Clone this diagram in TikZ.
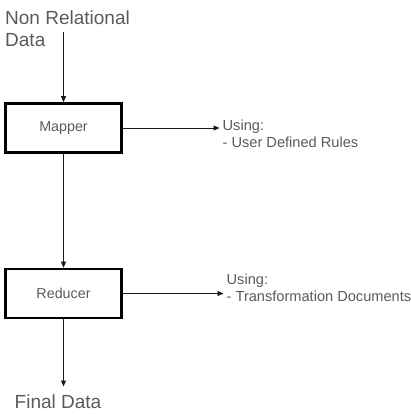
\documentclass[tikz,border=0pt]{standalone}
\usepackage{fontspec}
\setmainfont{Liberation Sans}
\usepackage{xcolor}
\usetikzlibrary{arrows.meta}
\definecolor{vdarkgray}{HTML}{1a1a1a}
\definecolor{vtextgray}{HTML}{5a5a5a}

\begin{document}
\begin{tikzpicture}[x=1pt, y=-1pt,
		stagebox/.style={draw=black, line width=2.6pt, minimum width=116pt, minimum height=49pt, inner sep=0pt, text=vtextgray, font=\fontsize{14.3}{16}\selectfont},
		bigtext/.style={inner sep=0pt, align=left, text=vtextgray, font=\fontsize{19}{22}\selectfont},
		notetext/.style={inner xsep=3pt, inner ysep=0pt, align=left, text=vtextgray, font=\fontsize{14.6}{16.5}\selectfont},
		flow/.style={color=vdarkgray, line width=0.9pt, -{Triangle[length=6pt, width=5pt]}}]
		\useasboundingbox (0,0) rectangle (411,414);
		\node[stagebox] (mapper) at (63.5,128) {Mapper};
		\node[stagebox] (reducer) at (63.5,293.5) {Reducer};
		\node[bigtext, anchor=north west] (source) at (5,10.5) {Non Relational\\Data};
		\node[bigtext, anchor=north west, inner ysep=8pt] (final) at (14.5,386.5) {Final Data};
		\node[notetext, anchor=north west] (mapnote) at (219.5,120) {Using:\\- User Defined Rules};
		\node[notetext, anchor=north west] (rednote) at (223.5,274) {Using:\\- Transformation Documents};
		\coordinate (sourceout) at (63.5,32);
		\draw[flow] (sourceout) -- (mapper.north);
		\draw[flow] (mapper.south) -- (mapper.south |- reducer.north);
		\draw[flow] (reducer.south) -- (reducer.south |- final.north);
		\draw[flow] (mapper.east) -- (mapper.east -| mapnote.west);
		\draw[flow] (reducer.east) -- (reducer.east -| rednote.west);
	\end{tikzpicture}
\end{document}
